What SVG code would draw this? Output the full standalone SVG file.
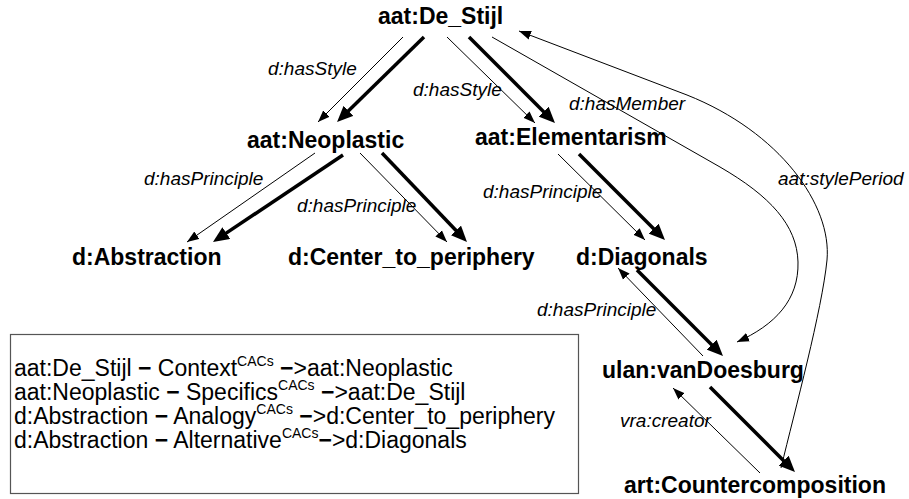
<svg xmlns="http://www.w3.org/2000/svg" width="909" height="499" viewBox="0 0 909 499">
<style>
.node{font-family:"Liberation Sans",Arial,sans-serif;font-weight:bold;font-size:23px;fill:#000}
.lbl{font-family:"Liberation Sans",Arial,sans-serif;font-style:italic;font-size:19px;fill:#000}
.leg{font-family:"Liberation Sans",Arial,sans-serif;font-size:23px;fill:#000}
.sup{font-size:14px}
.b{font-weight:bold}
.thin{fill:none;stroke:#000;stroke-width:1;marker-end:url(#ah)}
.thick{fill:none;stroke:#000;stroke-width:3.5;marker-end:url(#ahb)}
</style>
<defs>
<marker id="ah" markerUnits="userSpaceOnUse" viewBox="0 0 14 10" markerWidth="14" markerHeight="10" refX="12" refY="5" orient="auto"><path d="M0,0.5 L12,5 L0,9.5 z" fill="#000"/></marker>
<marker id="ahb" markerUnits="userSpaceOnUse" viewBox="0 0 18 14" markerWidth="18" markerHeight="14" refX="6" refY="7" orient="auto"><path d="M0,0 L16,7 L0,14 z" fill="#000"/></marker>
</defs>
<rect width="909" height="499" fill="#fff"/>

<g id="connectors">
<path class="thin" d="M403,37 L318,122"/>
<path class="thick" d="M424,37 L344.2,115"/>
<path class="thin" d="M447,37 L535,123"/>
<path class="thick" d="M469,37 L547.9,115.9"/>
<path class="thin" d="M315,153 L187,242"/>
<path class="thick" d="M343,155 L221.3,236.4"/>
<path class="thin" d="M360,153 L447,242"/>
<path class="thick" d="M382,153 L460.1,234.8"/>
<path class="thin" d="M558,154 L645,240"/>
<path class="thick" d="M579,154 L657.9,232.9"/>
<path class="thin" d="M703,356 L618,268"/>
<path class="thick" d="M637,270 L715.9,348.9"/>
<path class="thick" d="M710,387 L787.9,464.9"/>
<path class="thin" d="M760,473 L673,388"/>
<path class="thin" d="M492,37 L720,167 C770,196 797,225 798,262 C799,300 775,325 737,342"/>
<path class="thin" d="M781,468 C795,410 822,310 827,260 C832,205 780,132 687,95 L519,31"/>
</g>
<g id="edge-labels">
<text class="lbl" x="268" y="75">d:hasStyle</text>
<text class="lbl" x="413" y="96">d:hasStyle</text>
<text class="lbl" x="569" y="110">d:hasMember</text>
<text class="lbl" x="144" y="185">d:hasPrinciple</text>
<text class="lbl" x="297" y="212">d:hasPrinciple</text>
<text class="lbl" x="483" y="198">d:hasPrinciple</text>
<text class="lbl" x="778" y="185">aat:stylePeriod</text>
<text class="lbl" x="537" y="316">d:hasPrinciple</text>
<text class="lbl" x="620" y="427">vra:creator</text>
</g>

<g id="n-destijl"><text class="node" x="378" y="24">aat:De_Stijl</text></g>
<g id="n-neoplastic"><text class="node" x="247" y="148">aat:Neoplastic</text></g>
<g id="n-elementarism"><text class="node" x="475" y="145">aat:Elementarism</text></g>
<g id="n-abstraction"><text class="node" x="72" y="265">d:Abstraction</text></g>
<g id="n-center"><text class="node" x="288" y="265">d:Center_to_periphery</text></g>
<g id="n-diagonals"><text class="node" x="576" y="265">d:Diagonals</text></g>
<g id="n-vandoesburg"><text class="node" x="602" y="378">ulan:vanDoesburg</text></g>
<g id="n-countercomposition"><text class="node" x="624" y="493">art:Countercomposition</text></g>

<g id="legend">
<rect x="10.5" y="334.5" width="568" height="159" fill="none" stroke="#555" stroke-width="1.2"/>
<text class="leg" x="14" y="376">aat:De_Stijl <tspan class="b">−</tspan> Context<tspan class="sup" dy="-10">CACs</tspan><tspan dy="10"> <tspan class="b">−</tspan>&gt;aat:Neoplastic</tspan></text>
<text class="leg" x="14" y="400">aat:Neoplastic <tspan class="b">−</tspan> Specifics<tspan class="sup" dy="-10">CACs</tspan><tspan dy="10"> <tspan class="b">−</tspan>&gt;aat:De_Stijl</tspan></text>
<text class="leg" x="14" y="424">d:Abstraction <tspan class="b">−</tspan> Analogy<tspan class="sup" dy="-10">CACs</tspan><tspan dy="10"> <tspan class="b">−</tspan>&gt;d:Center_to_periphery</tspan></text>
<text class="leg" x="14" y="448">d:Abstraction <tspan class="b">−</tspan> Alternative<tspan class="sup" dy="-10">CACs</tspan><tspan dy="10"><tspan class="b">−</tspan>&gt;d:Diagonals</tspan></text>
</g>
</svg>
